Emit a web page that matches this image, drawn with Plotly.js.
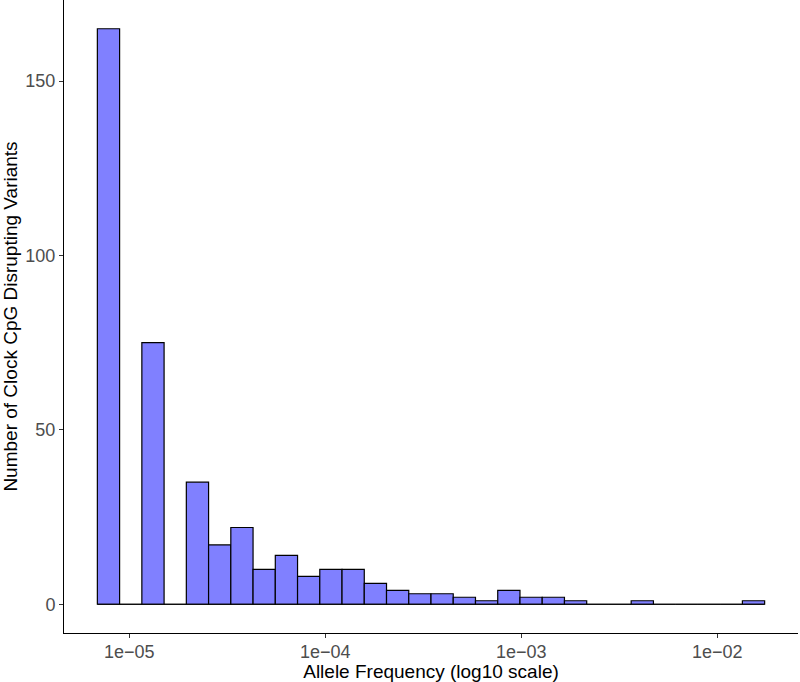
<!DOCTYPE html>
<html>
<head>
<meta charset="utf-8">
<script src="https://cdn.plot.ly/plotly-3.0.1.min.js"></script>
<style>html,body{margin:0;padding:0;background:#fff;}#chart{width:800px;height:682px;}</style>
</head>
<body>
<div id="chart"></div>
<script>
// Histogram counts (30 equal-width bins on log10 allele frequency)
const counts = [165, 0, 75, 0, 35, 17, 22, 10, 14, 8, 10, 10, 6, 4, 3, 3, 2, 1, 4, 2, 2, 1, 0, 0, 1, 0, 0, 0, 0, 1];
// Bin definition in log10(allele frequency)
const binStartLog10 = -5.163;
const binWidthLog10 = 0.1135;
// Axis ticks
const xTickVals = [-5, -4, -3, -2];
const xTickText = ['1e\u221205', '1e\u221204', '1e\u221203', '1e\u221202'];
const yTickVals = [0, 50, 100, 150];

const centers = counts.map((_, i) => binStartLog10 + (i + 0.5) * binWidthLog10);
const firstEdge = binStartLog10;
const lastEdge = binStartLog10 + counts.length * binWidthLog10;
const span = lastEdge - firstEdge;
const maxCount = Math.max(...counts);

const traces = [
  {
    type: 'scatter', mode: 'lines',
    x: [firstEdge, lastEdge], y: [0, 0],
    line: {color: '#000', width: 1.2},
    hoverinfo: 'skip', showlegend: false
  },
  {
    type: 'bar',
    x: centers, y: counts,
    width: binWidthLog10,
    marker: {color: '#8080FF', line: {color: '#000', width: 1.2}},
    showlegend: false
  }
];

const ff = 'Liberation Sans, Arial, sans-serif';
const layout = {
  width: 800, height: 682,
  margin: {l: 64, r: 2, t: 0, b: 49},
  paper_bgcolor: '#fff', plot_bgcolor: '#fff',
  bargap: 0,
  font: {family: ff, size: 18, color: '#000'},
  xaxis: {
    range: [firstEdge - 0.05 * span, lastEdge + 0.05 * span],
    tickvals: xTickVals, ticktext: xTickText,
    showgrid: false, zeroline: false,
    showline: true, linecolor: '#000', linewidth: 1,
    ticks: 'outside', ticklen: 4, tickcolor: '#333', tickwidth: 1,
    ticklabelstandoff: -2,
    tickfont: {family: ff, size: 18, color: '#4d4d4d'},
    title: {text: 'Allele Frequency (log10 scale)', font: {family: ff, size: 19, color: '#000'}, standoff: 2}
  },
  yaxis: {
    range: [-0.05 * maxCount, maxCount * 1.05],
    tickvals: yTickVals,
    showgrid: false, zeroline: false,
    showline: true, linecolor: '#000', linewidth: 1,
    ticks: 'outside', ticklen: 4, tickcolor: '#333', tickwidth: 1,
    tickfont: {family: ff, size: 18, color: '#4d4d4d'},
    title: {text: 'Number of Clock CpG Disrupting Variants', font: {family: ff, size: 19, color: '#000'}, standoff: 3}
  }
};

Plotly.newPlot('chart', traces, layout, {displayModeBar: false, staticPlot: true});
</script>
</body>
</html>
